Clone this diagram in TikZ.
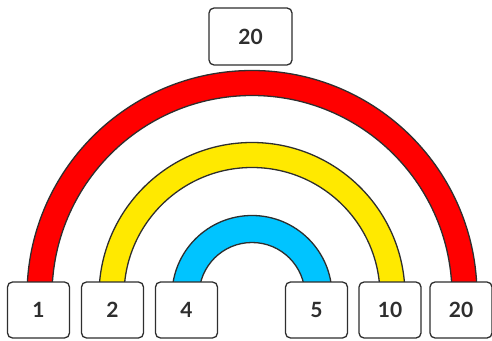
\documentclass[tikz,border=0pt]{standalone}
\usepackage{fontspec}
\setmainfont{Lato}
\usetikzlibrary{positioning}
\definecolor{bandred}{HTML}{FF0000}
\definecolor{bandyellow}{HTML}{FFE900}
\definecolor{bandblue}{HTML}{00C4FF}
\definecolor{edge}{HTML}{2E2E2E}
\tikzset{
    numbox/.style={draw=edge, line width=1.3pt, fill=white, rounded corners=5pt,
        minimum width=62pt, minimum height=56pt, inner sep=0pt,
        font=\fontsize{21}{24}\selectfont\bfseries, text=edge},
    band/.style={draw=edge, line width=1.3pt}
}
\begin{document}
\begin{tikzpicture}[x=1pt, y=1pt]
    \useasboundingbox (0,0) rectangle (492,340);
    % Rainbow bands (centre 252,44.5)
    \draw[band, fill=bandred] (27,44.5) arc (180:0:225) -- (452,44.5) arc (0:180:200) -- cycle;
    \draw[band, fill=bandyellow] (99,44.5) arc (180:0:153) -- (380,44.5) arc (0:180:128) -- cycle;
    \draw[band, fill=bandblue] (172,44.5) arc (180:0:80) -- (305,44.5) arc (0:180:53) -- cycle;
    % Top box
    \node[numbox, minimum width=83pt, minimum height=57pt] (total) at (250.5,303.5) {20};
    % Bottom boxes
    \node[numbox] (one)    at (38.5,30)  {1};
    \node[numbox] (two)    at (112.5,30) {2};
    \node[numbox] (four)   at (186.5,30) {4};
    \node[numbox] (five)   at (316.5,30) {5};
    \node[numbox] (ten)    at (390,30)   {10};
    \node[numbox] (twenty) at (461,30)   {20};
\end{tikzpicture}
\end{document}
